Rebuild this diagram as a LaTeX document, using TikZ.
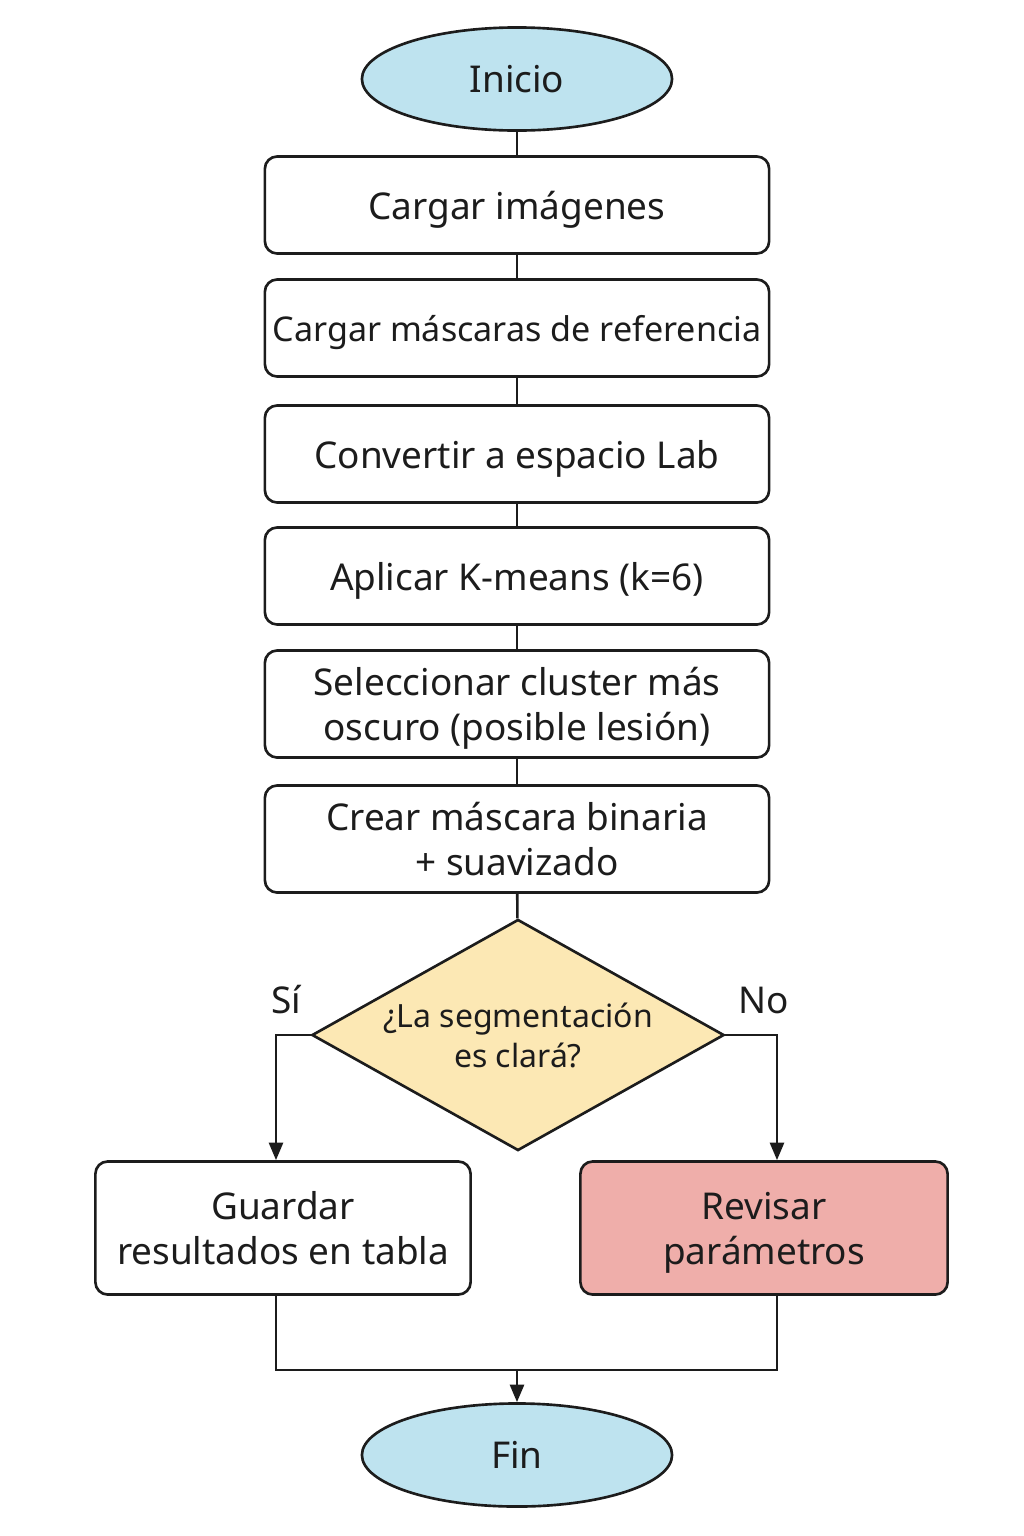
\documentclass[tikz,border=0pt]{standalone}
\usepackage{fontspec}
\setmainfont{Noto Sans}
\usetikzlibrary{shapes.geometric,arrows.meta,calc}
\definecolor{tinta}{HTML}{1C1C1C}
\definecolor{azulfin}{HTML}{BEE3EF}
\definecolor{amarillo}{HTML}{FCE8B4}
\definecolor{rosa}{HTML}{EFAEAA}
\begin{document}
\begin{tikzpicture}[x=0.01cm,y=-0.01cm,line width=0.75pt,color=tinta,
  caja/.style={draw,rounded corners=3.5pt,fill=white,minimum width=5.04cm,
    minimum height=0.97cm,inner sep=0pt,text depth=0pt,align=center,
    font=\fontsize{10.5}{12.8}\selectfont},
  extremo/.style={draw,ellipse,fill=azulfin,minimum width=3.1cm,
    minimum height=1.03cm,inner sep=0pt,font=\fontsize{10.5}{12.8}\selectfont},
  flecha/.style={-{Triangle[length=5pt,width=4pt]}}]
\useasboundingbox (0,0) rectangle (1024,1536);
%inicio
\node[extremo] (inicio) at (517,79) {Inicio};
%pasos
\node[caja] (cargar) at (517,205) {Cargar imágenes};
\node[caja,font=\fontsize{9.7}{12}\selectfont] (mascaras) at (517,328)
  {Cargar máscaras de referencia};
\node[caja] (lab) at (517,454) {Convertir a espacio Lab};
\node[caja] (kmeans) at (517,576) {Aplicar K-means (k=6)};
\node[caja,minimum height=1.07cm] (cluster) at (517,704)
  {Seleccionar cluster más\\oscuro (posible lesión)};
\node[caja,minimum height=1.07cm] (binaria) at (517,839)
  {Crear máscara binaria\\+ suavizado};
%decision
\node[draw,diamond,aspect=1.78,fill=amarillo,minimum width=4.12cm,
  minimum height=2.31cm,inner sep=0pt,align=center,
  font=\fontsize{9.1}{11.4}\selectfont]
  (decision) at (518,1035) {¿La segmentación\\es clará?};
\node[font=\fontsize{10.5}{12.8}\selectfont] (si) at (286,1000) {Sí};
\node[font=\fontsize{10.5}{12.8}\selectfont] (no) at (764,1000) {No};
%ramas
\node[caja,minimum width=3.75cm,minimum height=1.33cm] (guardar) at (283,1228)
  {Guardar\\resultados en tabla};
\node[caja,fill=rosa,minimum width=3.67cm,minimum height=1.33cm] (revisar)
  at (764,1228) {Revisar\\parámetros};
%fin
\node[extremo] (fin) at (517,1455) {Fin};
\coordinate (union) at (517,1370);
\foreach \a/\b in {inicio/cargar,cargar/mascaras,mascaras/lab,lab/kmeans,
  kmeans/cluster,cluster/binaria,binaria/decision}
  \draw (\a) -- (\b);
\draw[flecha] (decision.west) -| ($(guardar.north)+(-7,0)$);
\draw[flecha] (decision.east) -| ($(revisar.north)+(13,0)$);
\draw ($(guardar.south)+(-7,0)$) |- (union) -| ($(revisar.south)+(13,0)$);
\draw[flecha] (union) -- (fin);
\end{tikzpicture}
\end{document}
